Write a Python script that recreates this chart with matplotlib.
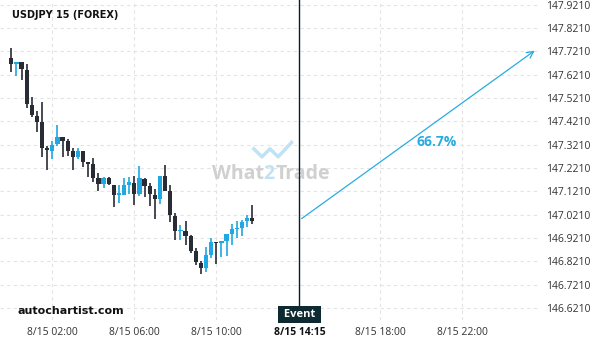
import matplotlib
matplotlib.use("Agg")
import matplotlib.pyplot as plt
import matplotlib.transforms as mtransforms

# 15-minute candles, hours after 8/15 00:00
hours = [i * 0.25 for i in range(48)]
opens = [147.691, 147.666, 147.674, 147.641, 147.491, 147.444, 147.418, 147.308,
         147.295, 147.323, 147.353, 147.337, 147.295, 147.269, 147.294, 147.248,
         147.238, 147.177, 147.151, 147.177, 147.148, 147.107, 147.107, 147.148,
         147.158, 147.108, 147.174, 147.144, 147.105, 147.087, 147.187, 147.124,
         147.017, 146.951, 146.951, 146.930, 146.865, 146.812, 146.791, 146.848,
         146.904, 146.901, 146.908, 146.938, 146.961, 146.965, 146.995, 147.007]
highs = [147.735, 147.674, 147.674, 147.666, 147.524, 147.464, 147.504, 147.315,
         147.337, 147.404, 147.353, 147.345, 147.305, 147.305, 147.294, 147.248,
         147.263, 147.200, 147.184, 147.182, 147.148, 147.148, 147.178, 147.181,
         147.187, 147.230, 147.178, 147.158, 147.130, 147.187, 147.234, 147.148,
         147.028, 146.977, 146.994, 146.934, 146.878, 146.824, 146.881, 146.920,
         146.904, 146.908, 146.937, 146.980, 146.995, 146.998, 147.020, 147.062]
lows = [147.634, 147.615, 147.598, 147.477, 147.438, 147.374, 147.267, 147.212,
        147.258, 147.315, 147.269, 147.272, 147.212, 147.258, 147.227, 147.184,
        147.162, 147.122, 147.137, 147.148, 147.053, 147.070, 147.105, 147.110,
        147.062, 147.101, 147.098, 147.058, 147.002, 147.065, 147.122, 146.991,
        146.912, 146.912, 146.891, 146.855, 146.805, 146.767, 146.777, 146.837,
        146.808, 146.841, 146.844, 146.891, 146.920, 146.931, 146.969, 146.981]
closes = [147.666, 147.674, 147.644, 147.494, 147.450, 147.420, 147.308, 147.300,
          147.320, 147.353, 147.338, 147.295, 147.269, 147.294, 147.248, 147.237,
          147.179, 147.151, 147.177, 147.151, 147.105, 147.113, 147.148, 147.162,
          147.108, 147.178, 147.145, 147.108, 147.087, 147.187, 147.124, 147.018,
          146.952, 146.955, 146.931, 146.867, 146.817, 146.791, 146.848, 146.905,
          146.900, 146.908, 146.937, 146.960, 146.965, 146.988, 147.007, 146.995]

event_hour = 14.05
event_label = "8/15 14:15"
arrow_start = (14.05, 146.997)
arrow_end = (25.64, 147.731)
prob_text = "66.7%"
prob_pos = (20.77, 147.332)

xtick_hours = [2, 6, 10, 18, 22]
xtick_labels = ["8/15 02:00", "8/15 06:00", "8/15 10:00", "8/15 18:00", "8/15 22:00"]
ytick_values = [147.921 - 0.1 * i for i in range(14)]

BLUE = "#1fa8e1"
DARK = "#292b35"

plt.rcParams['font.family'] = ['Open Sans', 'DejaVu Sans']

fig = plt.figure(figsize=(6, 3.4), dpi=100)
ax = fig.add_axes([0, 20 / 340, 540 / 600, 320 / 340])

# candles
w = 0.21
for h, o, hi, lo, c in zip(hours, opens, highs, lows, closes):
    col = BLUE if c > o else DARK
    ax.vlines(h, lo, hi, color=col, lw=1.2, zorder=3)
    bottom = min(o, c)
    height = max(abs(c - o), 0.004)
    ax.bar(h, height, width=w, bottom=bottom, color=col, zorder=4, linewidth=0)

# grid
ax.set_xticks(xtick_hours + [event_hour])
ax.set_xticklabels(xtick_labels + [event_label])
ax.set_yticks(ytick_values)
ax.set_yticklabels(["%.4f" % v for v in ytick_values])
ax.grid(True, ls=(0, (3, 3)), color="#e3e3e3", lw=0.8)
ax.set_axisbelow(True)
ax.yaxis.tick_right()
ax.tick_params(axis="both", length=0, labelsize=7.5, colors="#333333")
ax.tick_params(axis="x", pad=5)
ax.tick_params(axis="y", pad=4)
ax.get_xticklabels()[-1].set_fontweight("bold")
ax.get_xticklabels()[-1].set_color("#111111")
for s in ax.spines.values():
    s.set_visible(False)

ax.set_xlim(-0.551, 25.79)
ax.set_ylim(146.5695, 147.9411)

# event line + box
ax.axvline(event_hour, color="#0b1e28", lw=1, zorder=5)
trans = mtransforms.blended_transform_factory(ax.transData, ax.transAxes)
ax.text(event_hour, 0.017, " Event ", transform=trans, ha="center", va="center",
        color="white", fontsize=8, fontweight="bold", zorder=6,
        bbox=dict(boxstyle="square,pad=0.25", fc="#0d2a33", ec="none"))

# forecast arrow
ax.annotate("", xy=arrow_end, xytext=arrow_start,
            arrowprops=dict(arrowstyle="->", color="#29abe2", lw=0.9,
                            mutation_scale=12), zorder=5)
ax.text(prob_pos[0], prob_pos[1], prob_text, color="#29abe2", fontsize=10,
        fontweight="bold", ha="center", va="center")

# watermark
ax.text(0.488, 0.455, "What", transform=ax.transAxes, ha="right", va="center",
        fontsize=14, fontweight="bold", color="#d0d0d0", zorder=1)
ax.text(0.488, 0.455, "2", transform=ax.transAxes, ha="left", va="center",
        fontsize=14, fontweight="bold", color="#bfe3f5", zorder=1)
ax.text(0.51, 0.455, "Trade", transform=ax.transAxes, ha="left", va="center",
        fontsize=14, fontweight="bold", color="#d0d0d0", zorder=1)
ax.plot([0.47, 0.485, 0.5, 0.515, 0.54], [0.535, 0.51, 0.535, 0.51, 0.555],
        transform=ax.transAxes, color="#bfe3f5", lw=2.5, zorder=1)

# labels
fig.text(12 / 600, 1 - 15 / 340, "USDJPY 15 (FOREX)", fontsize=7,
         fontweight="bold", color="#111111", va="center", family="DejaVu Sans")
fig.text(17 / 600, 1 - 311 / 340, "autochartist.com", fontsize=8,
         fontweight="bold", color="#111111", va="center", family="DejaVu Sans")

fig.savefig("out.png", dpi=100)
